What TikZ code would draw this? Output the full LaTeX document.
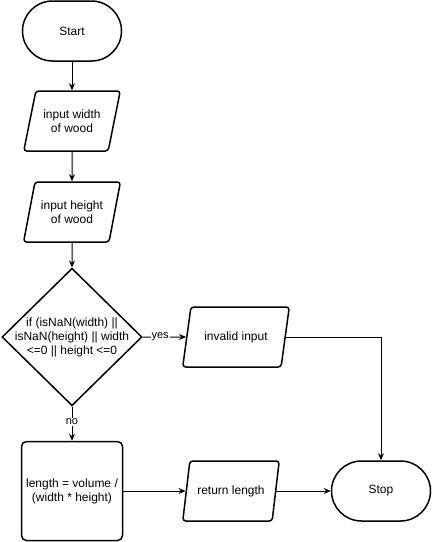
\documentclass[tikz,border=0pt]{standalone}
\usepackage{fontspec}
\setmainfont{Liberation Sans}
\usetikzlibrary{shapes.geometric, arrows.meta}

\begin{document}
\begin{tikzpicture}[x=1pt, y=-1pt,
    base/.style={draw, line width=1.5pt, align=center, font=\fontsize{12}{14}\selectfont},
    term/.style={base, rounded corners=30pt, minimum width=99pt, minimum height=60pt},
    io/.style={base, trapezium, trapezium left angle=72, trapezium right angle=108,
               trapezium stretches=true, rounded corners=3pt, inner xsep=0pt,
               minimum width=97pt, minimum height=60pt},
    proc/.style={base, rounded corners=5pt, minimum width=101pt, minimum height=99pt},
    decide/.style={base, diamond, inner sep=-4pt, minimum width=140pt, minimum height=137pt},
    flow/.style={-{Stealth[length=7pt, width=6pt]}, line width=1pt},
    lbl/.style={fill=white, inner sep=1pt, font=\fontsize{11}{13}\selectfont}
  ]
  \useasboundingbox (0,0) rectangle (432,542);
  \node[term] (start) at (72,31) {Start};
  \node[io] (inwidth) at (72,121) {input width\\of wood};
  \node[io] (inheight) at (72,212) {input height\\of wood};
  \node[decide] (check) at (72,337) {if (isNaN(width) ||\\isNaN(height) || width\\<=0 || height <=0};
  \node[io, minimum width=107pt] (invalid) at (236,337) {invalid input};
  \node[proc] (calc) at (72,491) {length = volume /\\(width * height)};
  \node[io] (ret) at (231,491) {return length};
  \node[term] (stop) at (381,491) {Stop};

  \draw[flow] (start) -- (inwidth);
  \draw[flow] (inwidth) -- (inheight);
  \draw[flow] (inheight) -- (check);
  \draw[flow] (check.east) -- node[lbl, pos=0.4] {yes} (invalid);
  \draw[flow] (invalid.east) -| (stop.north);
  \draw[flow] (check.south) -- node[lbl, pos=0.45] {no} (calc.north);
  \draw[flow] (calc) -- (ret);
  \draw[flow] (ret) -- (stop);
\end{tikzpicture}
\end{document}
